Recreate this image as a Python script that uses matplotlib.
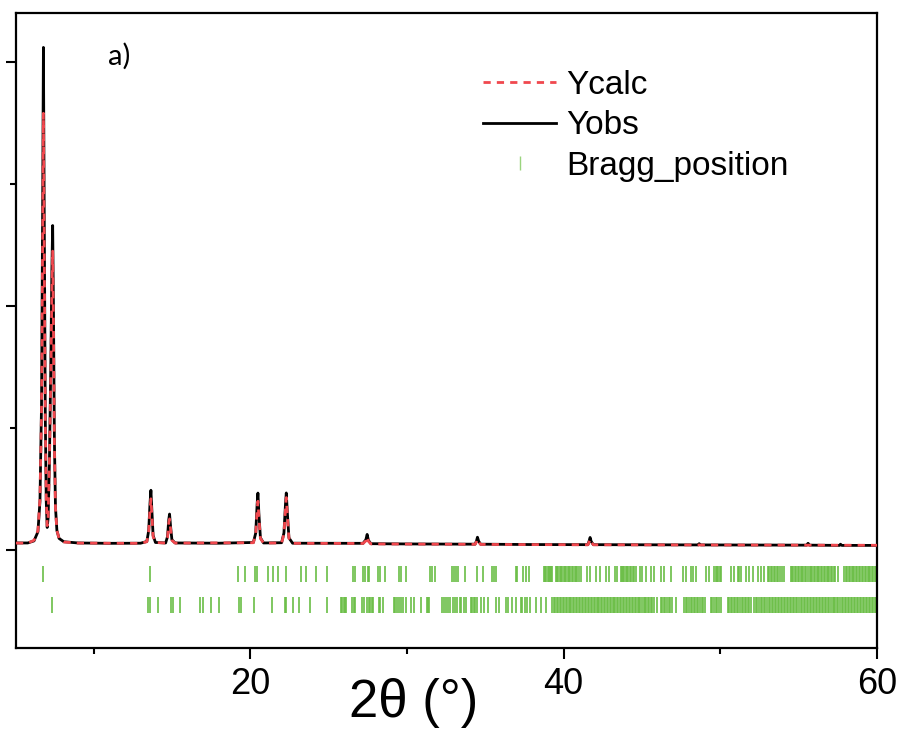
import numpy as np
import matplotlib.pyplot as plt
from matplotlib.ticker import FixedLocator, NullFormatter

tth_obs = [5.05, 5.8, 6.2, 6.45, 6.58, 6.68, 6.75, 6.80, 6.85, 6.92, 6.98, 7.04,
           7.10, 7.18, 7.27, 7.34, 7.39, 7.44, 7.50, 7.57, 7.66, 7.8, 8.1, 9.0,
           11.0, 13.0, 13.40, 13.52, 13.60, 13.66, 13.72, 13.80, 13.95, 14.6,
           14.72, 14.80, 14.85, 14.91, 15.0, 15.2, 18.0, 20.2, 20.35, 20.44,
           20.49, 20.55, 20.65, 20.85, 22.0, 22.15, 22.25, 22.30, 22.37, 22.47,
           22.7, 27.2, 27.38, 27.46, 27.54, 27.7, 30.0, 34.35, 34.44, 34.50,
           34.58, 34.7, 38.0, 41.55, 41.63, 41.69, 41.76, 41.9, 48.6, 48.65,
           48.75, 55.5, 55.6, 55.7, 57.6, 57.67, 57.75, 60.0]
y_obs = [58, 58, 75, 150, 400, 1200, 2800, 4120, 2800, 1100, 400, 185,
         260, 700, 1500, 2300, 2660, 2000, 900, 350, 160, 95, 68, 58,
         55, 56, 70, 160, 380, 490, 330, 120, 62, 58,
         110, 250, 295, 200, 85, 58, 56, 62, 140, 380,
         467, 300, 100, 58, 60, 140, 380, 468, 300, 100,
         56, 55, 85, 128, 80, 52, 50, 48, 75, 105,
         72, 48, 45, 44, 75, 103, 70, 44, 42, 52,
         42, 40, 55, 40, 38, 48, 38, 38]

# calculated profile
tth_calc = [5.05, 5.8, 6.2, 6.45, 6.58, 6.68, 6.75, 6.80, 6.85, 6.92, 6.98, 7.04,
            7.10, 7.18, 7.27, 7.34, 7.39, 7.44, 7.50, 7.57, 7.66, 7.8, 8.1, 9.0,
            13.0, 13.40, 13.52, 13.60, 13.66, 13.72, 13.80, 13.95, 14.6,
            14.72, 14.80, 14.85, 14.91, 15.0, 15.2, 20.2, 20.35, 20.44,
            20.49, 20.55, 20.65, 20.85, 22.0, 22.15, 22.25, 22.30, 22.37, 22.47,
            22.7, 27.2, 27.38, 27.46, 27.54, 27.7, 34.35, 34.44, 34.50,
            34.58, 34.7, 41.55, 41.63, 41.69, 41.76, 41.9, 60.0]
y_calc = [57, 57, 80, 160, 420, 1150, 2500, 3580, 2500, 1050, 420, 200,
          270, 680, 1400, 2100, 2450, 1850, 850, 340, 160, 95, 66, 57,
          55, 68, 150, 330, 420, 290, 110, 62, 57,
          100, 220, 255, 180, 80, 57, 60, 130, 330,
          400, 270, 95, 57, 58, 130, 340, 430, 280, 95,
          55, 54, 75, 110, 72, 50, 47, 68, 90,
          65, 46, 43, 68, 90, 64, 43, 39]

# Bragg reflections, phase 1 and phase 2
bragg_1 = [6.76, 13.61, 19.21, 19.64, 20.28, 20.43, 21.13, 21.45, 21.77, 22.30,
           23.26, 23.54, 24.22, 24.90, 26.54, 26.71, 27.18, 27.35, 27.50, 27.59,
           28.14, 28.27, 28.58, 29.48, 29.61, 29.91, 31.50, 31.63, 31.80, 32.89,
           32.99, 33.10, 33.25, 33.68, 34.49, 34.87, 35.45, 35.55, 35.66, 36.93,
           37.04, 37.43, 37.57, 37.78, 38.74, 38.81, 38.90, 38.98, 39.05, 39.14,
           39.22, 39.28, 39.49, 39.58, 39.66, 39.75, 39.83, 39.90, 40.00, 40.09,
           40.17, 40.26, 40.35, 40.43, 40.52, 40.60, 40.70, 40.78, 40.87, 40.96,
           41.09, 41.52, 41.68, 42.05, 42.32, 42.69, 42.90, 43.26, 43.43, 43.64,
           43.72, 43.80, 43.88, 43.97, 44.05, 44.14, 44.22, 44.30, 44.40, 44.50,
           44.60, 44.88, 45.03, 45.24, 45.56, 45.77, 46.20, 46.41, 46.84, 47.59,
           47.80, 48.12, 48.23, 48.44, 49.08, 49.29, 49.61, 49.70, 49.78, 49.86,
           49.95, 50.03, 50.67, 50.89, 51.10, 51.20, 51.31, 51.63, 51.84, 52.06,
           52.38, 52.59, 52.80, 53.02, 53.12, 53.22, 53.30, 53.40, 53.52, 53.60,
           53.70, 53.80, 53.92, 54.06, 54.50, 54.58, 54.66, 54.75, 54.84, 54.95,
           55.05, 55.13, 55.22, 55.30, 55.40, 55.50, 55.60, 55.70, 55.78, 55.86,
           55.96, 56.05, 56.15, 56.22, 56.32, 56.40, 56.50, 56.60, 56.68, 56.78,
           56.88, 56.96, 57.06, 57.15, 57.25, 57.35, 57.49, 57.92, 58.02, 58.10,
           58.20, 58.30, 58.38, 58.48, 58.56, 58.66, 58.75, 58.84, 58.94, 59.02,
           59.12, 59.22, 59.30, 59.40, 59.48, 59.58, 59.68, 59.76, 59.86, 59.95]
bragg_2 = [7.37, 13.50, 13.61, 14.14, 14.97, 15.07, 15.53, 16.80, 16.97, 17.51,
           18.02, 19.29, 19.44, 20.21, 21.39, 22.19, 22.30, 22.73, 23.09, 23.84,
           24.90, 25.80, 25.88, 25.96, 26.05, 26.13, 26.50, 26.60, 26.69, 27.14,
           27.24, 27.46, 27.55, 27.64, 27.74, 27.84, 28.20, 28.30, 28.46, 29.16,
           29.26, 29.38, 29.50, 29.64, 29.76, 29.97, 30.23, 30.44, 30.87, 31.25,
           31.35, 31.44, 32.25, 32.36, 32.50, 32.64, 32.78, 32.92, 33.08, 33.22,
           33.36, 33.48, 33.62, 33.74, 34.06, 34.15, 34.25, 34.36, 34.49, 34.70,
           34.91, 35.17, 35.66, 35.87, 36.30, 36.47, 36.72, 36.93, 37.25, 37.36,
           37.51, 37.68, 37.85, 38.21, 38.53, 38.85, 39.28, 39.38, 39.47, 39.58,
           39.66, 39.76, 39.85, 39.95, 40.04, 40.14, 40.22, 40.32, 40.41, 40.50,
           40.60, 40.69, 40.78, 40.88, 40.97, 41.06, 41.16, 41.25, 41.35, 41.45,
           41.53, 41.63, 41.72, 41.82, 41.91, 42.00, 42.10, 42.19, 42.28, 42.38,
           42.47, 42.56, 42.66, 42.75, 42.84, 42.94, 43.03, 43.12, 43.22, 43.31,
           43.40, 43.50, 43.58, 43.68, 43.78, 43.86, 43.96, 44.06, 44.15, 44.25,
           44.34, 44.44, 44.53, 44.62, 44.72, 44.81, 44.90, 45.00, 45.10, 45.19,
           45.28, 45.38, 45.47, 45.56, 45.66, 45.76, 45.98, 46.20, 46.30, 46.40,
           46.50, 46.60, 46.70, 46.80, 46.92, 47.19, 47.70, 47.80, 47.90, 48.00,
           48.10, 48.20, 48.30, 48.40, 48.50, 48.60, 48.70, 48.80, 48.92, 49.04,
           49.40, 49.50, 49.60, 49.70, 49.80, 49.92, 50.03, 50.46, 50.56, 50.66,
           50.76, 50.86, 50.96, 51.06, 51.16, 51.26, 51.36, 51.46, 51.56, 51.66,
           51.76, 51.86, 51.95, 52.17, 52.27, 52.37, 52.47, 52.58, 52.68, 52.78,
           52.88, 52.98, 53.08, 53.18, 53.27, 53.37, 53.47, 53.57, 53.66, 53.76,
           53.86, 53.95, 54.05, 54.15, 54.25, 54.34, 54.44, 54.54, 54.63, 54.73,
           54.83, 54.92, 55.02, 55.12, 55.22, 55.31, 55.41, 55.51, 55.60, 55.70,
           55.80, 55.89, 55.99, 56.09, 56.19, 56.28, 56.38, 56.48, 56.57, 56.67,
           56.77, 56.86, 56.96, 57.06, 57.16, 57.25, 57.35, 57.45, 57.54, 57.64,
           57.74, 57.83, 57.93, 58.03, 58.13, 58.22, 58.32, 58.42, 58.51, 58.61,
           58.71, 58.80, 58.90, 59.00, 59.10, 59.19, 59.29, 59.39, 59.48, 59.58,
           59.68, 59.77, 59.87, 59.96]

plt.rcParams['font.family'] = ['Liberation Sans', 'DejaVu Sans']

red = '#F0484E'
green = '#6ABE45'

fig = plt.figure(figsize=(9.01, 7.40), dpi=100)
ax = fig.add_axes([16/901, 1 - 648/740, 861/901, 635/740])

l_calc, = ax.plot(tth_calc, y_calc, color=red, lw=2.0, dashes=(2.6, 2.2),
                  label='Ycalc', zorder=3)
l_obs, = ax.plot(tth_obs, y_obs, color='black', lw=2.0, label='Yobs', zorder=2)
l_b1, = ax.plot(bragg_1, np.full(len(bragg_1), -198), ls='none', marker='|',
                ms=11, mew=1.2, color=green, label='Bragg_position')
ax.plot(bragg_2, np.full(len(bragg_2), -447), ls='none', marker='|',
        ms=11, mew=1.2, color=green)

ax.set_xlim(5.05, 60)
ax.set_ylim(-803, 4402)

ax.xaxis.set_major_locator(FixedLocator([20, 40, 60]))
ax.xaxis.set_minor_locator(FixedLocator([10, 30, 50]))
ax.yaxis.set_major_locator(FixedLocator([0, 2000, 4000]))
ax.yaxis.set_minor_locator(FixedLocator([1000, 3000]))
ax.yaxis.set_major_formatter(NullFormatter())
ax.tick_params(axis='x', which='major', direction='out', length=8, width=1.5,
               labelsize=26, pad=6)
ax.tick_params(axis='x', which='minor', direction='out', length=4, width=1.5)
ax.tick_params(axis='y', which='major', direction='out', length=7, width=1.5)
ax.tick_params(axis='y', which='minor', direction='out', length=4.5, width=1.5)
for s in ax.spines.values():
    s.set_linewidth(1.6)

ax.set_xlabel('2θ (°)', fontsize=38)
ax.xaxis.set_label_coords(0.462, -0.048)

ax.text(0.107, 0.918, 'a)', transform=ax.transAxes, fontsize=21,
        family='Lato', va='baseline', ha='left')

leg = ax.legend(handles=[l_calc, l_obs, l_b1], loc='upper left',
                bbox_to_anchor=(483/901, 1 - 70/740), bbox_transform=fig.transFigure,
                frameon=False, fontsize=24, handlelength=2.2, handletextpad=0.3,
                labelspacing=0.28, borderpad=0, borderaxespad=0, numpoints=1)
hb = leg.legend_handles[2]
hb.set_markeredgewidth(1.0)
hb.set_color('#9AD47E')
hb.set_markersize(10)

fig.savefig('out.png', dpi=100)
